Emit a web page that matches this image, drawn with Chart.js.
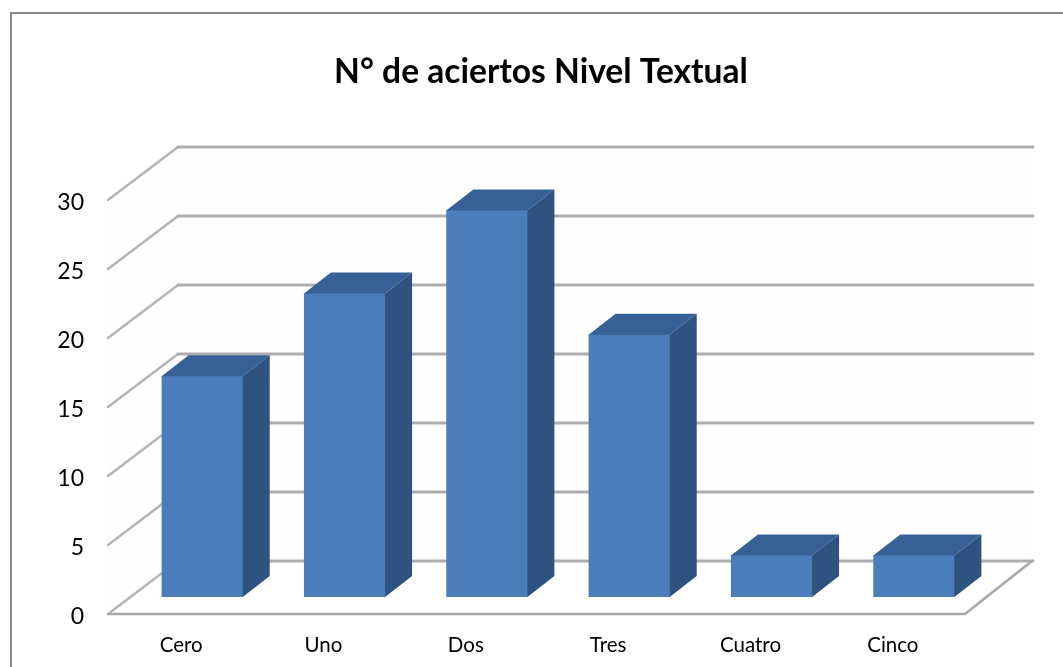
<!DOCTYPE html>
<html>
<head>
<meta charset="utf-8">
<script src="https://cdn.jsdelivr.net/npm/chart.js@4"></script>
<style>
html,body{margin:0;padding:0;background:#fff;overflow:hidden}
#wrap{position:relative;width:1063px;height:667px;overflow:hidden}
#frame{position:absolute;left:10px;top:12px;width:1060px;height:670px;border:2px solid #888;box-sizing:border-box;pointer-events:none}
canvas{position:absolute;left:0;top:0}
</style>
</head>
<body>
<div id="wrap"><canvas id="c" width="1082" height="667"></canvas><div id="frame"></div></div>
<script>
const titleText = 'N° de aciertos Nivel Textual';
const categories = ['Cero','Uno','Dos','Tres','Cuatro','Cinco'];
const aciertos = [16,22,28,19,3,3];
const yTicks = [0,5,10,15,20,25,30];

// 3-D projection offsets, relative to the plane of the bars' front faces
const FRONT = {dx:-23, dy:17};
const BACK  = {dx:47,  dy:-36};
const DEPTH = {dx:27,  dy:-21};

const poly = (ctx, pts, fill) => {
  ctx.beginPath();
  pts.forEach((p,i)=> i ? ctx.lineTo(p[0],p[1]) : ctx.moveTo(p[0],p[1]));
  ctx.closePath();
  ctx.fillStyle = fill;
  ctx.fill();
};

const box3d = {
  id:'box3d',
  beforeDatasetsDraw(chart){
    const {ctx, chartArea:a, scales:{y}} = chart;
    const xl = a.left, xr = a.right;
    ctx.save();
    // walls
    const topB = y.getPixelForValue(30)+BACK.dy, botB = y.getPixelForValue(0)+BACK.dy;
    const topF = y.getPixelForValue(30)+FRONT.dy, botF = y.getPixelForValue(0)+FRONT.dy;
    poly(ctx,[[xl+BACK.dx,topB],[xr+BACK.dx,topB],[xr+BACK.dx,botB],[xl+BACK.dx,botB]],'#fefefe');
    poly(ctx,[[xl+FRONT.dx,topF],[xl+BACK.dx,topB],[xl+BACK.dx,botB],[xl+FRONT.dx,botF]],'#fefefe');
    poly(ctx,[[xl+FRONT.dx,botF],[xl+BACK.dx,botB],[xr+BACK.dx-2,botB],[xr+FRONT.dx+3,botF]],'#ffffff');
    // gridlines
    ctx.lineCap='round';
    yTicks.forEach(v=>{
      const p = y.getPixelForValue(v);
      ctx.strokeStyle='#b4b4b4';
      ctx.lineWidth=2.4;
      ctx.beginPath();
      ctx.moveTo(xl+FRONT.dx,p+FRONT.dy);
      ctx.lineTo(xl+BACK.dx,p+BACK.dy);
      ctx.stroke();
      ctx.strokeStyle='#adadad';
      ctx.lineWidth=2.8;
      ctx.beginPath();
      ctx.moveTo(xl+BACK.dx,p+BACK.dy);
      ctx.lineTo(xr+BACK.dx+1,p+BACK.dy);
      ctx.stroke();
    });
    // floor outline
    const p0 = y.getPixelForValue(0);
    ctx.strokeStyle='#a8a8a8';
    ctx.lineWidth=2.6;
    ctx.beginPath();
    ctx.moveTo(xl+FRONT.dx,p0+FRONT.dy);
    ctx.lineTo(xr+FRONT.dx+3,p0+FRONT.dy);
    ctx.lineTo(xr+BACK.dx,p0+BACK.dy);
    ctx.stroke();
    // bar top and side faces (tucked slightly under the front face)
    chart.getDatasetMeta(0).data.forEach(b=>{
      const l=b.x-b.width/2, r=b.x+b.width/2;
      poly(ctx,[[l,b.y+1],[l,b.y],[l+DEPTH.dx,b.y+DEPTH.dy],[r+DEPTH.dx,b.y+DEPTH.dy],[r,b.y],[r,b.y+1]],'#376196');
      poly(ctx,[[r-1,b.y],[r,b.y],[r+DEPTH.dx,b.y+DEPTH.dy],[r+DEPTH.dx,b.base+DEPTH.dy],[r,b.base],[r-1,b.base]],'#2f5380');
    });
    ctx.restore();
  }
};

new Chart(document.getElementById('c'),{
  type:'bar',
  data:{labels:categories,datasets:[{data:aciertos,backgroundColor:'#4b7dbb',borderWidth:0,barPercentage:0.57,categoryPercentage:1}]},
  plugins:[box3d],
  options:{
    responsive:false,
    animation:false,
    layout:{padding:0},
    plugins:{
      legend:{display:false},
      tooltip:{enabled:false},
      title:{display:true,text:titleText,color:'#000',
        font:{family:'Lato',size:33.6,weight:'bold',lineHeight:1.2},
        padding:{top:52,bottom:90.7}}
    },
    scales:{
      x:{
        grid:{display:false},border:{display:false},
        afterFit(s){s.height=70;},
        ticks:{color:'#000',font:{family:'Lato',size:20.5},padding:28,labelOffset:-21,maxRotation:0,autoSkip:false}
      },
      y:{
        min:0,max:30,
        grid:{display:false},border:{display:false},
        afterFit(s){s.width=131;},
        ticks:{color:'#000',stepSize:5,font:{family:'Lato',size:23},padding:39,labelOffset:20}
      },
      spacer:{
        position:'right',
        grid:{display:false},border:{display:false},
        ticks:{display:false},
        afterFit(s){s.width=97;}
      }
    }
  }
});
</script>
</body>
</html>
